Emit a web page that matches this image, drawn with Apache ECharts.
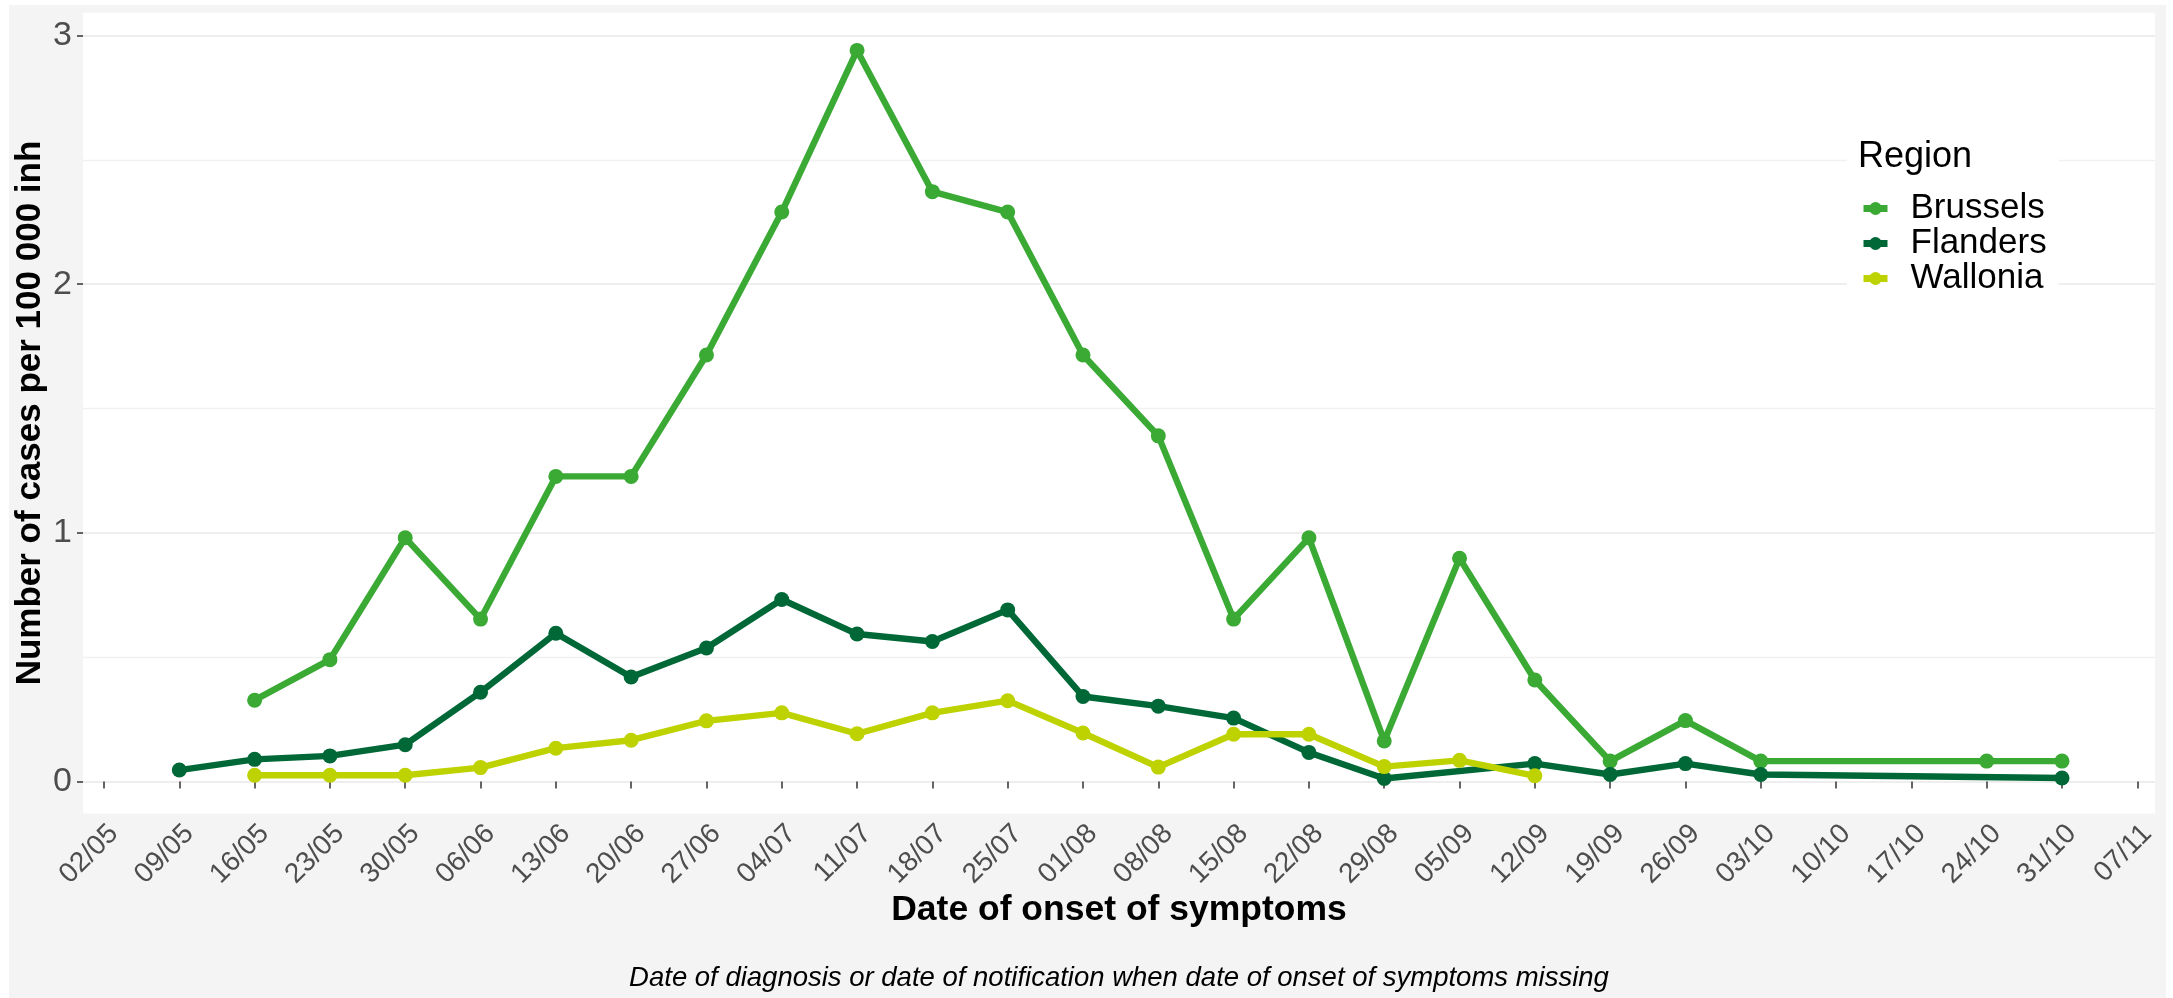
<!DOCTYPE html>
<html>
<head>
<meta charset="utf-8">
<script src="https://cdn.jsdelivr.net/npm/echarts@6/dist/echarts.min.js"></script>
<style>html,body{margin:0;padding:0;background:#fff;}#c{width:2173px;height:998px;}</style>
</head>
<body>
<div id="c"></div>
<script>
const weeks = ['02/05','09/05','16/05','23/05','30/05','06/06','13/06','20/06','27/06','04/07','11/07','18/07','25/07','01/08','08/08','15/08','22/08','29/08','05/09','12/09','19/09','26/09','03/10','10/10','17/10','24/10','31/10','07/11'];
const brussels = [null,null,0.327,0.490,0.980,0.653,1.227,1.227,1.715,2.290,2.940,2.372,2.290,1.715,1.390,0.653,0.980,0.163,0.898,0.408,0.082,0.245,0.082,null,null,0.082,0.082,null];
const flanders = [null,0.046,0.089,0.103,0.148,0.359,0.596,0.420,0.537,0.732,0.593,0.563,0.690,0.342,0.303,0.255,0.117,0.012,null,0.072,0.028,0.072,0.028,null,null,null,0.014,null];
const wallonia = [null,null,0.025,0.025,0.025,0.056,0.134,0.166,0.244,0.276,0.192,0.276,0.325,0.195,0.058,0.190,0.190,0.060,0.085,0.023,null,null,null,null,null,null,null,null];
const yTicks = [0,1,2,3];
const regionNames = ['Brussels','Flanders','Wallonia'];
const regionColors = ['#3aaa35','#006837','#bed200'];
const regionData = [brussels, flanders, wallonia];

const chart = echarts.init(document.getElementById('c'), null, {renderer:'canvas'});
const FONT = "'Liberation Sans', Arial, sans-serif";
const W = 2173, H = 998;
const panel = {l:83, r:2155, t:12.7, b:813.5};

const series = regionNames.map((n,i)=>({
  name:n, type:'line', xAxisIndex:1, yAxisIndex:1,
  data: regionData[i], connectNulls:true, clip:false,
  symbol:'circle', symbolSize:15, showSymbol:true,
  lineStyle:{width:6.4, color:regionColors[i]},
  itemStyle:{color:regionColors[i]},
  emphasis:{disabled:true}, animation:false
}));

chart.setOption({
  backgroundColor:'#ffffff',
  animation:false,
  graphic:[
    {type:'rect', z:-20, shape:{x:9, y:5, width:2166-9, height:H-5}, style:{fill:'#f4f4f4'}},
    {type:'rect', z:-19, shape:{x:panel.l, y:panel.t, width:panel.r-panel.l, height:panel.b-panel.t}, style:{fill:'#ffffff'}},
    {type:'text', z:100, x:30, y:413, rotation:Math.PI/2,
      style:{text:'Number of cases per 100 000 inh', fontSize:35, fontWeight:'bold', fontFamily:FONT, fill:'#000', align:'center', verticalAlign:'middle'}},
    {type:'text', z:100, x:1119, y:910,
      style:{text:'Date of onset of symptoms', fontSize:35.5, fontWeight:'bold', fontFamily:FONT, fill:'#000', align:'center', verticalAlign:'middle'}},
    {type:'text', z:100, x:1119, y:978,
      style:{text:'Date of diagnosis or date of notification when date of onset of symptoms missing', fontSize:27.5, fontStyle:'italic', fontFamily:FONT, fill:'#000', align:'center', verticalAlign:'middle'}},
    {type:'text', z:100, x:1858, y:157,
      style:{text:'Region', fontSize:36, fontFamily:FONT, fill:'#000', align:'left', verticalAlign:'middle'}}
  ],
  grid:[
    {left:83, right:W-2155, top:35.5, bottom:216.5, show:false, containLabel:false},
    {left:104, right:35.7, top:35.5, bottom:216.5, show:false, containLabel:false}
  ],
  xAxis:[
    {type:'value', gridIndex:0, show:false, min:0, max:1},
    {type:'category', gridIndex:1, data:weeks, boundaryGap:false, offset:32,
      axisLine:{show:false},
      axisTick:{show:true, length:7, alignWithLabel:true, lineStyle:{color:'#333333', width:1.5}},
      axisLabel:{show:true, interval:0, rotate:45, fontSize:28, fontFamily:FONT, color:'#4d4d4d', margin:6,
        align:'right', verticalAlign:'top'},
      splitLine:{show:false}}
  ],
  yAxis:[
    {type:'value', gridIndex:0, min:0, max:3, interval:1,
      axisLine:{show:false},
      axisTick:{show:true, length:6, lineStyle:{color:'#333333', width:1.5}},
      axisLabel:{show:true, fontSize:34, fontFamily:FONT, color:'#4d4d4d', margin:11,
        customValues: yTicks},
      splitLine:{show:true, lineStyle:{color:'#e9e9e9', width:1.6}},
      minorTick:{show:false, splitNumber:2},
      minorSplitLine:{show:true, lineStyle:{color:'#f1f1f1', width:1.4}}},
    {type:'value', gridIndex:1, min:0, max:3, show:false, splitLine:{show:false}}
  ],
  legend:{
    data:regionNames, orient:'vertical', left:1847, top:128,
    padding:[63, 12, 10, 13], backgroundColor:'#ffffff',
    itemWidth:24, itemHeight:16, itemGap:0,
    lineStyle:{width:7},
    textStyle:{fontSize:35, fontFamily:FONT, color:'#000', lineHeight:34, padding:[0,0,0,18]},
    selectedMode:false
  },
  series: series
});
</script>
</body>
</html>
